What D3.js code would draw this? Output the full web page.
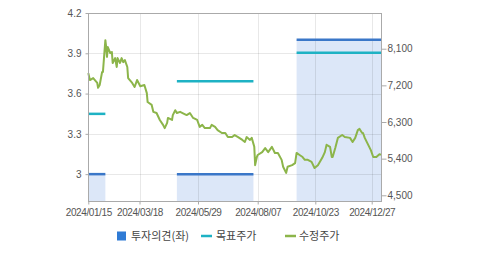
<!DOCTYPE html>
<html>
<head>
<meta charset="utf-8">
<script src="https://cdn.jsdelivr.net/npm/d3@7"></script>
<style>
body { margin: 0; background: #fff; }
text { font-family: "Liberation Sans", Arial, sans-serif; }
.legend text { font-family: "Noto Sans CJK KR", sans-serif; }
</style>
</head>
<body>
<div id="chart"></div>
<script>
// x ticks
var tickDates = ["2024-01-15", "2024-03-18", "2024-05-29", "2024-08-07", "2024-10-23", "2024-12-27"];
var endDate = "2025-01-08";

// 수정주가
var priceDates = [
  "2024-01-15","2024-01-17","2024-01-21","2024-01-26","2024-01-27","2024-01-29","2024-02-01","2024-02-02",
  "2024-02-05","2024-02-06","2024-02-07","2024-02-08","2024-02-11","2024-02-13","2024-02-14","2024-02-17",
  "2024-02-19","2024-02-20","2024-02-23","2024-02-25","2024-02-27","2024-02-29","2024-03-03","2024-03-04",
  "2024-03-09","2024-03-12","2024-03-15","2024-03-19","2024-03-24","2024-03-27","2024-03-28","2024-04-02",
  "2024-04-04","2024-04-08","2024-04-12","2024-04-16","2024-04-18","2024-04-21","2024-04-22","2024-04-27",
  "2024-04-28","2024-05-01","2024-05-03","2024-05-07","2024-05-10","2024-05-15","2024-05-19","2024-05-23",
  "2024-05-28","2024-05-31","2024-06-03","2024-06-06","2024-06-12","2024-06-14","2024-06-18","2024-06-21",
  "2024-06-26","2024-06-30","2024-07-03","2024-07-08","2024-07-11","2024-07-15","2024-07-20","2024-07-23",
  "2024-07-25","2024-07-29","2024-07-31","2024-08-03","2024-08-04","2024-08-06","2024-08-07","2024-08-13",
  "2024-08-17","2024-08-21","2024-08-26","2024-08-30","2024-09-03","2024-09-08","2024-09-10","2024-09-14",
  "2024-09-16","2024-09-22","2024-09-26","2024-09-28","2024-10-02","2024-10-06","2024-10-09","2024-10-13",
  "2024-10-18","2024-10-22","2024-10-26","2024-10-31","2024-11-03","2024-11-05","2024-11-09","2024-11-11",
  "2024-11-12","2024-11-15","2024-11-18","2024-11-23","2024-11-26","2024-12-02","2024-12-05","2024-12-08",
  "2024-12-11","2024-12-13","2024-12-16","2024-12-17","2024-12-19","2024-12-22","2024-12-26","2024-12-29",
  "2025-01-02","2025-01-06","2025-01-08"
];
var prices = [
  7500,7330,7380,7260,7140,7210,7530,7530,
  8310,8140,7900,8140,7990,8020,7750,7870,
  7650,7870,7750,7870,7770,7820,7650,7380,
  7260,7160,7330,7180,7210,7010,6790,6720,
  6550,6520,6350,6230,6150,6280,6400,6350,
  6470,6590,6520,6550,6520,6470,6520,6400,
  6350,6180,6230,6150,6150,6230,6180,6100,
  6030,6030,5930,5930,5980,5930,5860,5810,
  5930,5860,5910,5690,5240,5440,5490,5560,
  5660,5560,5690,5540,5540,5370,5200,5050,
  5200,5240,5290,5540,5490,5440,5370,5370,
  5320,5170,5240,5420,5560,5740,5690,5440,
  5440,5660,5910,5980,5930,5910,5810,5910,
  6100,6130,6030,6030,5910,5780,5610,5440,
  5440,5510,5490
];

// 투자의견 (좌)
var opinionStart = ["2024-01-15", "2024-05-03", "2024-09-28"];
var opinionEnd = ["2024-02-05", "2024-08-02", "2025-01-08"];
var opinionValue = [3, 3, 4];

// 목표주가
var targetPrice = [6500, 7300, 8000];

var leftTicks = [3, 3.3, 3.6, 3.9, 4.2];
var rightTicks = [4500, 5400, 6300, 7200, 8100];

var width = 479, height = 255;
var plot = {left: 88, right: 381, top: 13, bottom: 201};
var parse = d3.timeParse("%Y-%m-%d");
var fmtDate = d3.timeFormat("%Y/%m/%d");

var svg = d3.select("#chart").append("svg")
    .attr("width", width)
    .attr("height", height);

// x scale, piecewise through the tick dates
var x = d3.scaleTime()
    .domain(tickDates.concat([endDate]).map(parse))
    .range([88.3, 139.5, 198, 257.7, 315.3, 371.7, plot.right]);

var yLeft = d3.scaleLinear().domain([2.8, 4.2]).range([plot.bottom, plot.top]);
var yRight = d3.scaleLinear().domain([4360, 8977]).range([plot.bottom, plot.top]);

// opinion shading
var opinions = opinionStart.map(function(s, i) {
    return {s: parse(s), e: parse(opinionEnd[i]), v: opinionValue[i], t: targetPrice[i]};
});

svg.append("g").selectAll("rect")
    .data(opinions)
    .enter().append("rect")
    .attr("x", function(d) { return x(d.s); })
    .attr("y", function(d) { return yLeft(d.v); })
    .attr("width", function(d) { return x(d.e) - x(d.s); })
    .attr("height", function(d) { return plot.bottom - yLeft(d.v); })
    .attr("fill", "#dce7f8");

// grid
var grid = svg.append("g");
grid.selectAll(".hg")
    .data(leftTicks)
    .enter().append("line")
    .attr("x1", plot.left).attr("x2", plot.right)
    .attr("y1", function(d) { return Math.round(yLeft(d)) + 0.5; })
    .attr("y2", function(d) { return Math.round(yLeft(d)) + 0.5; })
    .attr("stroke", "#000").attr("stroke-opacity", 0.09);
grid.selectAll(".vg")
    .data(tickDates.slice(1))
    .enter().append("line")
    .attr("x1", function(d) { return Math.round(x(parse(d))) + 0.5; })
    .attr("x2", function(d) { return Math.round(x(parse(d))) + 0.5; })
    .attr("y1", plot.top).attr("y2", plot.bottom)
    .attr("stroke", "#000").attr("stroke-opacity", 0.09);

// opinion lines
svg.append("g").selectAll("line")
    .data(opinions)
    .enter().append("line")
    .attr("x1", function(d) { return x(d.s); })
    .attr("x2", function(d) { return x(d.e); })
    .attr("y1", function(d) { return yLeft(d.v); })
    .attr("y2", function(d) { return yLeft(d.v); })
    .attr("stroke", "#3a77c8").attr("stroke-width", 2.5);

// target price lines
svg.append("g").selectAll("line")
    .data(opinions)
    .enter().append("line")
    .attr("x1", function(d) { return x(d.s); })
    .attr("x2", function(d) { return x(d.e); })
    .attr("y1", function(d) { return yRight(d.t); })
    .attr("y2", function(d) { return yRight(d.t); })
    .attr("stroke", "#1eb2c4").attr("stroke-width", 2.5);

// price line
var line = d3.line()
    .x(function(d, i) { return x(parse(priceDates[i])); })
    .y(function(d) { return yRight(d); });

svg.append("path")
    .datum(prices)
    .attr("d", line)
    .attr("fill", "none")
    .attr("stroke", "#8cb54a")
    .attr("stroke-width", 2)
    .attr("stroke-linejoin", "round");

// frame
svg.append("rect")
    .attr("x", plot.left + 0.5).attr("y", plot.top + 0.5)
    .attr("width", plot.right - plot.left).attr("height", plot.bottom - plot.top)
    .attr("fill", "none").attr("stroke", "#aaa");

// axes
var leftAxis = d3.axisLeft(yLeft).tickValues(leftTicks).tickSize(3).tickPadding(4)
    .tickFormat(d3.format("~g"));
var gl = svg.append("g").attr("transform", "translate(" + (plot.left + 0.5) + ",0)").call(leftAxis);

var rightAxis = d3.axisRight(yRight).tickValues(rightTicks).tickSize(5).tickPadding(1)
    .tickFormat(d3.format(","));
var gr = svg.append("g").attr("transform", "translate(" + (plot.right + 0.5) + ",0)").call(rightAxis);

var bottomAxis = d3.axisBottom(x).tickValues(tickDates.map(parse)).tickSize(3).tickPadding(4)
    .tickFormat(fmtDate);
var gb = svg.append("g").attr("transform", "translate(0," + (plot.bottom + 0.5) + ")").call(bottomAxis);

[gl, gr, gb].forEach(function(g) {
    g.select(".domain").remove();
    g.selectAll(".tick line").attr("stroke", "#aaa");
    g.selectAll("text")
        .attr("fill", "#555")
        .style("font-size", "10px")
        .style("font-family", "'Liberation Sans', Arial, sans-serif");
});
gb.selectAll("text").style("letter-spacing", "-0.4px");

// legend
var legend = svg.append("g").attr("class", "legend");
legend.append("rect")
    .attr("x", 117).attr("y", 231.5).attr("width", 9).attr("height", 9)
    .attr("fill", "#2f7bd5");
legend.append("text").attr("x", 131).attr("y", 240).text("투자의견(좌)");
legend.append("line")
    .attr("x1", 201).attr("x2", 212).attr("y1", 236).attr("y2", 236)
    .attr("stroke", "#1eb2c4").attr("stroke-width", 2.5);
legend.append("text").attr("x", 216).attr("y", 240).text("목표주가");
legend.append("line")
    .attr("x1", 285).attr("x2", 296).attr("y1", 236).attr("y2", 236)
    .attr("stroke", "#8cb54a").attr("stroke-width", 2.5);
legend.append("text").attr("x", 299).attr("y", 240).text("수정주가");
legend.selectAll("text").attr("fill", "#444").style("font-size", "11px");
</script>
</body>
</html>
